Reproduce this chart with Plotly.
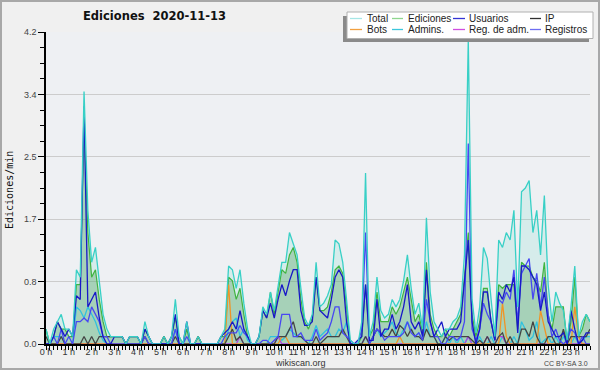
import plotly.graph_objects as go

# 10-minute bins, 0h00 .. 23h50
slots = list(range(144))
hour_ticks = list(range(0, 144, 6))
hour_labels = [f"{h} h" for h in range(24)]

y_tickvals = [0, 0.84, 1.68, 2.52, 3.36, 4.2]
y_ticktext = ["0.0", "0.8", "1.7", "2.5", "3.4", "4.2"]

total = [
    0.2, 0.0, 0.2, 0.3, 0.4, 0.2,
    0.2, 0.1, 1.0, 0.9, 3.4, 1.8,
    1.1, 1.3, 0.85, 0.4, 0.2, 0.1,
    0.1, 0.1, 0.1, 0.0, 0.1, 0.1,
    0.1, 0.0, 0.3, 0.1, 0.0, 0.0,
    0.0, 0.1, 0.0, 0.1, 0.6, 0.1,
    0.0, 0.3, 0.0, 0.0, 0.1, 0.0,
    0.0, 0.0, 0.0, 0.0, 0.1, 0.2,
    1.05, 1.0, 0.75, 1.0, 0.55, 0.2,
    0.0, 0.0, 0.1, 0.5, 0.4, 0.7,
    0.45, 0.8, 1.1, 1.1, 1.5, 1.35,
    1.2, 0.75, 0.35, 0.25, 0.4, 1.1,
    0.5, 0.55, 0.65, 0.8, 1.4, 1.35,
    1.1, 0.6, 0.05, 0.0, 0.0, 0.3,
    2.3, 0.1, 0.3, 0.9, 0.45, 0.35,
    0.4, 0.6, 0.5, 0.6, 0.85, 1.2,
    0.75, 0.4, 0.55, 0.2, 1.7, 0.7,
    0.3, 0.2, 0.1, 0.2, 0.2, 0.3,
    0.35, 0.5, 1.2, 4.1, 0.6, 0.15,
    0.5, 1.3, 1.15, 0.6, 0.1, 1.4,
    1.3, 1.5, 1.4, 1.8, 0.5, 2.05,
    2.1, 2.2, 1.5, 1.8, 1.2, 2.0,
    0.8, 0.3, 0.7, 0.55, 0.45, 0.05,
    0.5, 1.05, 0.1, 0.3, 0.4, 0.3,
]

ediciones = [
    0.2, 0.0, 0.1, 0.3, 0.2, 0.2,
    0.1, 0.1, 0.8, 0.8, 3.0, 1.5,
    0.9, 1.0, 0.6, 0.3, 0.1, 0.1,
    0.1, 0.1, 0.1, 0.0, 0.1, 0.1,
    0.1, 0.0, 0.2, 0.1, 0.0, 0.0,
    0.0, 0.1, 0.0, 0.1, 0.35, 0.1,
    0.0, 0.2, 0.0, 0.0, 0.1, 0.0,
    0.0, 0.0, 0.0, 0.0, 0.1, 0.1,
    0.9, 0.85, 0.6, 0.75, 0.4, 0.1,
    0.0, 0.0, 0.1, 0.45, 0.35, 0.7,
    0.4, 0.7, 1.0, 0.95, 1.2, 1.3,
    1.1, 0.6, 0.3, 0.2, 0.35, 0.9,
    0.45, 0.45, 0.5, 0.7, 1.0, 1.05,
    0.95, 0.5, 0.0, 0.0, 0.0, 0.1,
    0.8, 0.1, 0.2, 0.7, 0.3, 0.3,
    0.3, 0.5, 0.4, 0.5, 0.7, 0.9,
    0.6, 0.3, 0.4, 0.15, 1.1, 0.4,
    0.2, 0.1, 0.1, 0.2, 0.1, 0.2,
    0.3, 0.4, 0.9, 1.5, 0.4, 0.1,
    0.3, 0.75, 0.75, 0.3, 0.05, 0.8,
    0.75, 0.8, 0.8, 0.8, 0.2, 1.1,
    1.05, 1.05, 0.9, 0.85, 0.7, 1.1,
    0.4, 0.2, 0.5, 0.5, 0.5, 0.0,
    0.3, 0.9, 0.1, 0.2, 0.4, 0.3,
]

usuarios = [
    0.0, 0.0, 0.1, 0.3, 0.2, 0.1,
    0.2, 0.1, 0.65, 0.6, 3.2, 0.5,
    0.6, 0.7, 0.35, 0.1, 0.0, 0.0,
    0.1, 0.1, 0.1, 0.0, 0.1, 0.1,
    0.1, 0.0, 0.2, 0.1, 0.0, 0.0,
    0.0, 0.0, 0.0, 0.1, 0.4, 0.0,
    0.0, 0.3, 0.0, 0.0, 0.0, 0.0,
    0.0, 0.0, 0.0, 0.0, 0.1, 0.15,
    0.2, 0.3, 0.2, 0.45, 0.2, 0.1,
    0.0, 0.0, 0.1, 0.45, 0.35, 0.55,
    0.35, 0.6, 0.8, 0.65, 0.85, 1.0,
    1.0, 0.45, 0.25, 0.25, 0.3, 0.9,
    0.45, 0.4, 0.35, 0.6, 0.9, 1.0,
    0.9, 0.3, 0.0, 0.0, 0.05, 0.1,
    0.8, 0.05, 0.05, 0.6, 0.1, 0.2,
    0.2, 0.4, 0.2, 0.3, 0.5, 0.8,
    0.3, 0.2, 0.3, 0.1, 1.0, 0.3,
    0.1, 0.2, 0.3, 0.1, 0.2, 0.2,
    0.2, 0.3, 0.8, 1.4, 0.3, 0.0,
    0.2, 0.7, 0.7, 0.3, 0.05, 0.7,
    0.6, 0.8, 0.7, 0.9, 0.15, 1.05,
    1.05, 1.0, 0.9, 0.8, 0.45, 0.7,
    0.3, 0.2, 0.1, 0.1, 0.15, 0.0,
    0.45, 0.2, 0.0, 0.05, 0.15, 0.15,
]

ip = [
    0.1, 0.0, 0.0, 0.0, 0.1, 0.0,
    0.0, 0.0, 0.0, 0.0, 0.1, 0.0,
    0.1, 0.0, 0.1, 0.1, 0.1, 0.1,
    0.1, 0.1, 0.1, 0.0, 0.0, 0.0,
    0.0, 0.0, 0.1, 0.0, 0.0, 0.0,
    0.0, 0.1, 0.0, 0.0, 0.1, 0.0,
    0.0, 0.0, 0.0, 0.0, 0.1, 0.0,
    0.0, 0.0, 0.0, 0.0, 0.0, 0.0,
    0.1, 0.2, 0.05, 0.1, 0.0, 0.0,
    0.0, 0.0, 0.0, 0.0, 0.0, 0.0,
    0.0, 0.1, 0.1, 0.1, 0.2, 0.3,
    0.1, 0.1, 0.05, 0.0, 0.0, 0.1,
    0.0, 0.05, 0.1, 0.1, 0.1, 0.1,
    0.2, 0.1, 0.0, 0.0, 0.0, 0.0,
    0.1, 0.0, 0.1, 0.2, 0.15, 0.1,
    0.1, 0.2, 0.1, 0.25, 0.2, 0.1,
    0.2, 0.1, 0.1, 0.05, 0.2, 0.1,
    0.1, 0.0, 0.0, 0.1, 0.05, 0.1,
    0.1, 0.1, 0.1, 0.1, 0.05, 0.0,
    0.05, 0.0, 0.1, 0.0, 0.0, 0.1,
    0.15, 0.0, 0.1, 0.0, 0.0, 0.2,
    0.2, 0.1, 0.3, 0.1, 0.0, 0.0,
    0.1, 0.1, 0.0, 0.0, 0.2, 0.0,
    0.1, 0.1, 0.1, 0.1, 0.1, 0.2,
]

bots = [0.0] * 144
for i, v in {48: 0.8, 62: 0.1, 63: 0.1, 93: 0.1, 120: 0.55, 121: 0.1,
             130: 0.45, 131: 0.2, 139: 0.5, 140: 0.1}.items():
    bots[i] = v

admins = [
    0.0, 0.0, 0.1, 0.1, 0.1, 0.0,
    0.0, 0.0, 0.5, 0.45, 0.35, 0.5,
    0.4, 0.3, 0.15, 0.05, 0.0, 0.0,
    0.0, 0.0, 0.0, 0.0, 0.0, 0.0,
    0.0, 0.0, 0.0, 0.0, 0.0, 0.0,
    0.0, 0.0, 0.0, 0.0, 0.2, 0.0,
    0.0, 0.0, 0.0, 0.0, 0.0, 0.0,
    0.0, 0.0, 0.0, 0.0, 0.0, 0.0,
    0.2, 0.3, 0.35, 0.1, 0.2, 0.05,
    0.0, 0.0, 0.0, 0.0, 0.0, 0.1,
    0.1, 0.1, 0.05, 0.1, 0.2, 0.15,
    0.1, 0.1, 0.05, 0.0, 0.1, 0.25,
    0.1, 0.15, 0.2, 0.1, 0.1, 0.2,
    0.15, 0.3, 0.0, 0.0, 0.0, 0.0,
    0.1, 0.0, 0.1, 0.2, 0.1, 0.15,
    0.2, 0.3, 0.15, 0.1, 0.2, 0.3,
    0.2, 0.1, 0.15, 0.05, 0.3, 0.1,
    0.1, 0.0, 0.0, 0.1, 0.0, 0.1,
    0.0, 0.1, 0.0, 0.1, 0.0, 0.0,
    0.1, 0.0, 0.0, 0.1, 0.0, 0.0,
    0.1, 0.0, 0.0, 0.1, 0.0, 0.3,
    0.2, 0.05, 0.1, 0.3, 0.0, 0.05,
    0.1, 0.0, 0.1, 0.0, 0.1, 0.0,
    0.0, 0.1, 0.0, 0.05, 0.1, 0.1,
]

reg_adm = [0.0] * 144
for i in [51, 61, 84, 111, 116, 119, 120]:
    reg_adm[i] = 0.1

registros = [
    0.0, 0.0, 0.1, 0.0, 0.2, 0.0,
    0.1, 0.0, 0.3, 0.3, 0.35, 0.3,
    0.5, 0.4, 0.3, 0.1, 0.1, 0.0,
    0.0, 0.0, 0.0, 0.0, 0.0, 0.0,
    0.0, 0.0, 0.1, 0.0, 0.0, 0.0,
    0.0, 0.0, 0.0, 0.0, 0.2, 0.0,
    0.0, 0.1, 0.0, 0.0, 0.0, 0.0,
    0.0, 0.0, 0.0, 0.0, 0.0, 0.1,
    0.15, 0.15, 0.15, 0.25, 0.15, 0.1,
    0.0, 0.0, 0.0, 0.05, 0.05, 0.0,
    0.05, 0.1, 0.4, 0.4, 0.4, 0.1,
    0.1, 0.15, 0.05, 0.05, 0.05, 0.2,
    0.05, 0.1, 0.15, 0.3, 0.5, 0.5,
    0.15, 0.1, 0.05, 0.0, 0.0, 0.2,
    1.5, 0.0, 0.1, 0.2, 0.15, 0.05,
    0.1, 0.1, 0.1, 0.1, 0.15, 0.3,
    0.15, 0.1, 0.15, 0.05, 0.6, 0.3,
    0.1, 0.1, 0.0, 0.0, 0.1, 0.1,
    0.05, 0.1, 0.3, 2.7, 0.2, 0.05,
    0.2, 0.55, 0.4, 0.3, 0.05, 0.6,
    0.55, 0.7, 0.6, 1.0, 0.3, 0.95,
    1.05, 1.15, 0.6, 0.95, 0.5, 0.9,
    0.4, 0.1, 0.2, 0.05, 0.0, 0.05,
    0.2, 0.15, 0.0, 0.1, 0.0, 0.0,
]

legend_items = [
    ("Total", "#a6e6e6"), ("Ediciones", "#8fd68f"), ("Usuarios", "#3434d4"), ("IP", "#303030"),
    ("Bots", "#f2a040"), ("Admins.", "#3cc6dc"), ("Reg. de adm.", "#d04ee0"), ("Registros", "#6e6ef2"),
]

fig = go.Figure()

fig.add_trace(go.Scatter(x=slots, y=total, mode="lines", fill="tozeroy",
                         fillcolor="rgba(80,215,195,0.15)", line=dict(color="rgba(0,0,0,0)", width=0),
                         showlegend=False, hoverinfo="skip"))
fig.add_trace(go.Scatter(x=slots, y=ediciones, mode="lines", fill="tozeroy",
                         fillcolor="rgba(80,160,95,0.36)", line=dict(color="#40b440", width=1.2),
                         showlegend=False))
series = [
    (admins, "#30c2de"),
    (reg_adm, "#b040e0"),
    (bots, "#f09425"),
    (ip, "#444444"),
    (registros, "#4848f2"),
    (usuarios, "#1818c8"),
    (total, "#38d0c6"),
]
for vals, col in series:
    fig.add_trace(go.Scatter(x=slots, y=vals, mode="lines", line=dict(color=col, width=1.3),
                             showlegend=False))

L, R, T, B = 46, 590, 32, 344
W, H = R - L, B - T
def fx(px):
    return (px - L) / W
def fy(py):
    return (B - py) / H

shapes = []
annotations = []
# outer border
shapes.append(dict(type="rect", xref="paper", yref="paper", x0=fx(1), x1=fx(599), y0=fy(1), y1=fy(369),
                   line=dict(color="#a8a8a8", width=2), layer="above"))
# legend box with shadow
shapes.append(dict(type="rect", xref="paper", yref="paper", x0=fx(343), x1=fx(589), y0=fy(16), y1=fy(42),
                   fillcolor="#8a8a8a", line=dict(width=0), layer="above"))
shapes.append(dict(type="rect", xref="paper", yref="paper", x0=fx(347), x1=fx(593), y0=fy(12), y1=fy(38.5),
                   fillcolor="#ffffff", line=dict(color="#b0b0b0", width=1), layer="above"))
col_sw = [(350, 362, 366), (392, 403, 407), (453, 465, 468), (530, 541, 544)]
row_y = [18.5, 29.5]
for k, (name, col) in enumerate(legend_items):
    r, c = divmod(k, 4)
    sx0, sx1, tx = col_sw[c]
    yy = row_y[r]
    shapes.append(dict(type="line", xref="paper", yref="paper", x0=fx(sx0), x1=fx(sx1), y0=fy(yy), y1=fy(yy),
                       line=dict(color=col, width=1.3), layer="above"))
    annotations.append(dict(xref="paper", yref="paper", x=fx(tx), y=fy(yy), text=name, showarrow=False,
                            xanchor="left", yanchor="middle", borderpad=0,
                            font=dict(family="Liberation Sans", size=10, color="#222222")))

annotations.append(dict(xref="paper", yref="paper", x=fx(154), y=fy(16.5), text="<b>Ediciones  2020-11-13</b>",
                        showarrow=False, xanchor="center", yanchor="middle",
                        font=dict(family="DejaVu Sans", size=11.5, color="#111111")))
annotations.append(dict(xref="paper", yref="paper", x=fx(9), y=fy(190), text="Ediciones/min", textangle=-90,
                        showarrow=False, xanchor="center", yanchor="middle",
                        font=dict(family="DejaVu Sans Mono", size=10, color="#111111")))
annotations.append(dict(xref="paper", yref="paper", x=fx(300), y=fy(363), text="wikiscan.org",
                        showarrow=False, xanchor="center", yanchor="middle", borderpad=0,
                        font=dict(family="Liberation Sans", size=9, color="#333333")))
annotations.append(dict(xref="paper", yref="paper", x=fx(589), y=fy(363), text="CC BY-SA 3.0",
                        showarrow=False, xanchor="right", yanchor="middle", borderpad=0,
                        font=dict(family="Liberation Sans", size=7, color="#444444")))

fig.update_layout(
    width=600, height=370,
    margin=dict(l=L, r=600 - R, t=T, b=370 - B, pad=0),
    paper_bgcolor="#f0f0f0", plot_bgcolor="#eef0f3",
    showlegend=False,
    shapes=shapes, annotations=annotations,
    xaxis=dict(range=[0, 143], tickmode="array", tickvals=hour_ticks, ticktext=hour_labels,
               ticks="outside", ticklen=4, tickwidth=1, tickcolor="#000000", ticklabelstandoff=-6,
               minor=dict(tickmode="linear", tick0=0, dtick=1, ticks="outside", ticklen=4,
                          tickwidth=1, tickcolor="#000000", showgrid=False),
               showgrid=False, zeroline=False, showline=True, linecolor="#000000", linewidth=1.5,
               tickfont=dict(family="Liberation Sans", size=9, color="#333333"), fixedrange=True),
    yaxis=dict(range=[0, 4.2], tickmode="array", tickvals=y_tickvals, ticktext=y_ticktext,
               ticks="outside", ticklen=6, tickwidth=1, tickcolor="#000000",
               minor=dict(tickmode="linear", tick0=0, dtick=0.21, ticks="outside", ticklen=4,
                          tickwidth=1, tickcolor="#000000", showgrid=False),
               showgrid=True, gridcolor="#cccccc", gridwidth=1, zeroline=False,
               showline=True, linecolor="#000000", linewidth=1.5,
               tickfont=dict(family="Liberation Sans", size=9, color="#444444"), fixedrange=True),
)

fig.write_html("out.html")
